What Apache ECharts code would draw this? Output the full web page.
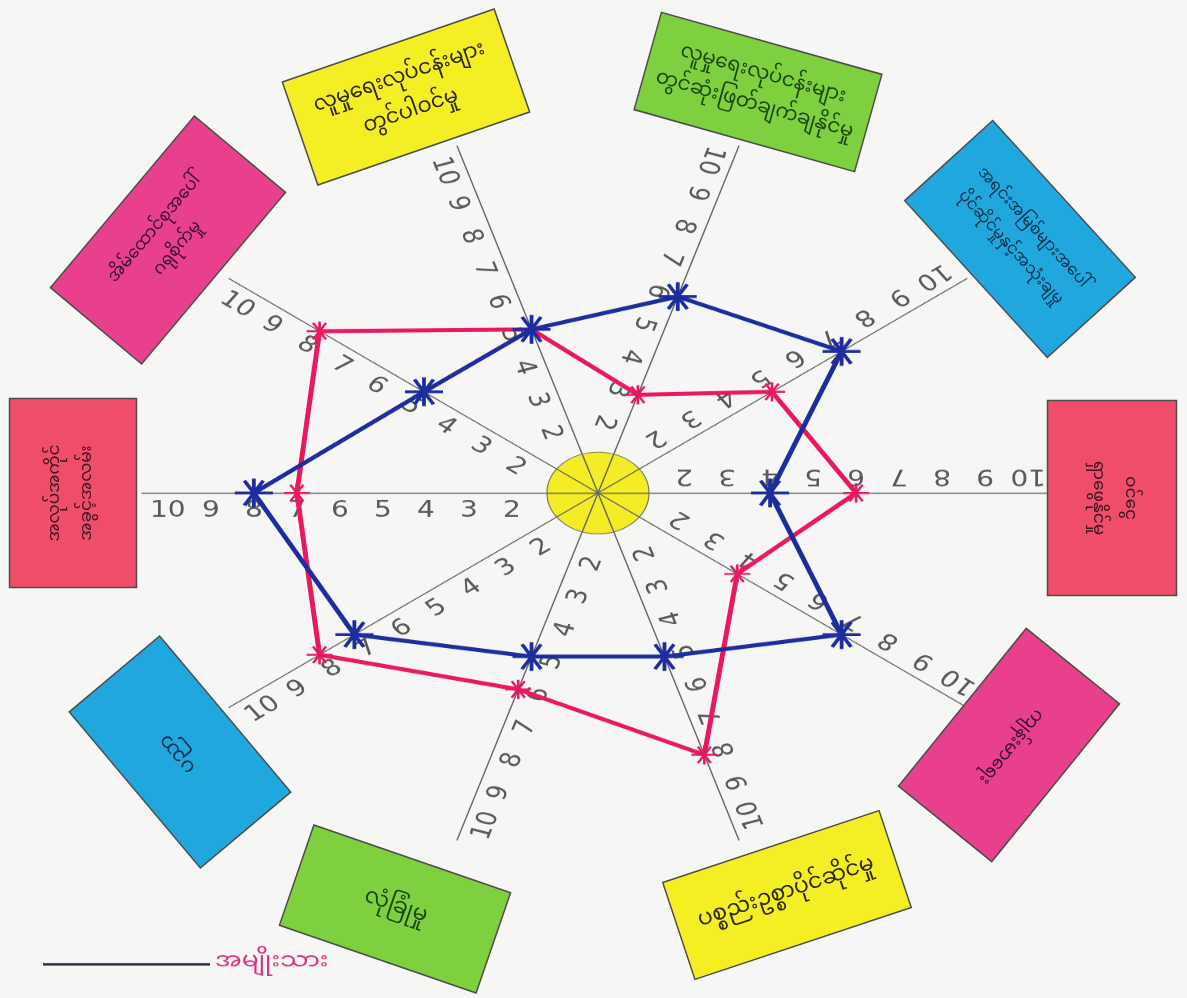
<!DOCTYPE html>
<html>
<head>
<meta charset="utf-8">
<script src="https://cdn.jsdelivr.net/npm/echarts@6/dist/echarts.min.js"></script>
<style>
html,body{margin:0;padding:0;background:#f6f6f4;}
#wrap{position:relative;width:1187px;height:998px;overflow:hidden;background:#f6f6f4;}
#radar{position:absolute;left:0;top:0;width:1187px;height:1248px;transform:scaleY(0.8);transform-origin:0 0;}
#boxes{position:absolute;left:0;top:0;width:1187px;height:998px;pointer-events:none;}
</style>
</head>
<body>
<div id="wrap"><div id="radar"></div><div id="boxes"></div></div>
<script>
// ---- data ----
const categories = [
  'လူမှုရေးလုပ်ငန်းများ\nတွင်ပါဝင်မှု',
  'အိမ်ထောင်စုအပေါ်\nဂရုစိုက်မှု',
  'အလုပ်အကိုင်\nအခွင့်အလမ်း',
  'ပညာ',
  'လုံခြုံမှု',
  'ပစ္စည်းဥစ္စာပိုင်ဆိုင်မှု',
  'ကျန်းမာရေး',
  'ဝင်ငွေ\nရှာဖွေနိုင်မှု',
  'အရင်းအမြစ်များအပေါ်\nပိုင်ဆိုင်မှုနှင့်အသုံးချမှု',
  'လူမှုရေးလုပ်ငန်းများ\nတွင်ဆုံးဖြတ်ချက်ချနိုင်မှု'
];
const seriesNames = ['အမျိုးသား', 'အမျိုးသမီး'];
const maleValues   = [5, 5, 8, 7, 5, 5, 7, 4, 7, 6];
const femaleValues = [5, 8, 7, 8, 6, 8, 4, 6, 5, 3];
const tickLabels = ['2', '3', '4', '5', '6', '7', '8', '9', '10'];

// ---- layout / style ----
const SQ = 0.8;
const CX = 598, CY = 493 / SQ;
const AXMAX = 10.6;
const R = 456;
const START = 108;
const axisAngles = categories.map((_, i) => (START + 36 * i) % 360);
const BLUE = '#1d2d9e', RED = '#e8195d';
const MYFONT = '"Noto Sans Myanmar","Padauk","Myanmar Text","Noto Sans",sans-serif';
const ASTER = 'path://M0,45L100,45L100,55L0,55Z M29.3,4.5L79.3,90.5L70.7,95.5L20.7,9.5Z M79.3,9.5L29.3,95.5L20.7,90.5L70.7,4.5Z M45,0L55,0L55,100L45,100Z';

function normRot(a) { let r = a - 180; while (r <= -180) r += 360; while (r > 180) r -= 360; return r; }

const chart = echarts.init(document.getElementById('radar'), null, {width: 1187, height: 1248});
chart.setOption({
  backgroundColor: 'transparent',
  animation: false,
  legend: {
    data: [{name: seriesNames[0], itemStyle: {color: '#2e3350'}}],
    left: 38, top: 1188,
    icon: 'rect', itemWidth: 167, itemHeight: 3, itemGap: 10,
    textStyle: {color: '#d8317e', fontSize: 25, fontFamily: MYFONT}
  },
  graphic: {elements: [{
    type: 'circle', z: 1,
    shape: {cx: CX, cy: CY, r: 51},
    style: {fill: '#f4ec25', stroke: '#7a7a5a', lineWidth: 1.2}
  }]},
  polar: axisAngles.map(() => ({center: [CX, CY], radius: [0, R]})),
  angleAxis: axisAngles.map((a, i) => ({
    polarIndex: i, type: 'value', min: 0, max: 360, startAngle: a, show: false
  })),
  radiusAxis: axisAngles.map((a, i) => ({
    polarIndex: i, type: 'value', min: 0, max: AXMAX, interval: 1, z: 3,
    axisLine: {show: true, lineStyle: {color: '#666', width: 1.4}},
    axisTick: {show: false},
    splitLine: {show: false},
    axisLabel: {
      show: true, rotate: normRot(a), margin: 8,
      color: '#595959', fontSize: 28, fontFamily: 'DejaVu Sans',
      formatter: v => { const s = String(Math.round(v * 1000) / 1000); return tickLabels.includes(s) ? s : ''; }
    }
  })),
  radar: {
    center: [CX, CY], radius: R, startAngle: START,
    indicator: categories.map(n => ({name: n, min: 0, max: AXMAX})),
    axisName: {show: false},
    axisLine: {show: false}, splitLine: {show: false}, splitArea: {show: false},
    axisTick: {show: false}, axisLabel: {show: false}
  },
  series: [{
    type: 'radar', z: 5,
    data: [
      {name: seriesNames[1], value: femaleValues,
       lineStyle: {color: RED, width: 5}, itemStyle: {color: RED},
       symbol: ASTER, symbolSize: [26, 24]},
      {name: seriesNames[0], value: maleValues,
       lineStyle: {color: BLUE, width: 5}, itemStyle: {color: BLUE},
       symbol: ASTER, symbolSize: [38, 36]}
    ]
  }]
});

// ---- label boxes (layout only) ----
const boxLayout = [
  {cx: 406,  cy: 97,  w: 224, h: 109, rot: 19,    fill: '#f4ef22', ink: '#2b2a12', fs: 21, lh: 36},
  {cx: 168,  cy: 240, w: 224, h: 119, rot: 50,    fill: '#e9408d', ink: '#3a1030', fs: 17, lh: 30},
  {cx: 73,   cy: 493, w: 189, h: 127, rot: 90,    fill: '#ef4d6a', ink: '#3d1420', fs: 17, lh: 32},
  {cx: 180,  cy: 752, w: 204, h: 118, rot: 130,   fill: '#1fa7de', ink: '#10304a', fs: 20, lh: 30},
  {cx: 395,  cy: 909, w: 208, h: 106, rot: -19,   fill: '#7ed03e', ink: '#1d4a14', fs: 22, lh: 34},
  {cx: 787,  cy: 895, w: 228, h: 102, rot: 18.4,  fill: '#f4ef22', ink: '#2b2a12', fs: 22, lh: 34},
  {cx: 1009, cy: 745, w: 203, h: 120, rot: -129,  fill: '#e9408d', ink: '#3a1030', fs: 18, lh: 30},
  {cx: 1112, cy: 498, w: 195, h: 129, rot: -90,   fill: '#ef4d6a', ink: '#3d1420', fs: 17, lh: 32},
  {cx: 1020, cy: 239, w: 212, h: 119, rot: -47.7, fill: '#1fa7de', ink: '#10304a', fs: 16, lh: 30},
  {cx: 758,  cy: 92,  w: 229, h: 101, rot: -15.7, fill: '#7ed03e', ink: '#1d4a14', fs: 20, lh: 32}
];
const boxes = echarts.init(document.getElementById('boxes'), null, {width: 1187, height: 998});
boxes.setOption({
  backgroundColor: 'transparent',
  animation: false,
  graphic: {elements: categories.map((name, i) => {
    const b = boxLayout[i];
    return {
      type: 'group', x: b.cx, y: b.cy, rotation: b.rot * Math.PI / 180,
      children: [
        {type: 'rect', shape: {x: -b.w / 2, y: -b.h / 2, width: b.w, height: b.h},
         style: {fill: b.fill, stroke: '#4d4d4d', lineWidth: 1.5}},
        {type: 'text', x: 0, y: 0,
         style: {text: name, fill: b.ink, fontSize: b.fs, fontFamily: MYFONT,
                 align: 'center', verticalAlign: 'middle', lineHeight: b.lh}}
      ]
    };
  })}
});
</script>
</body>
</html>
